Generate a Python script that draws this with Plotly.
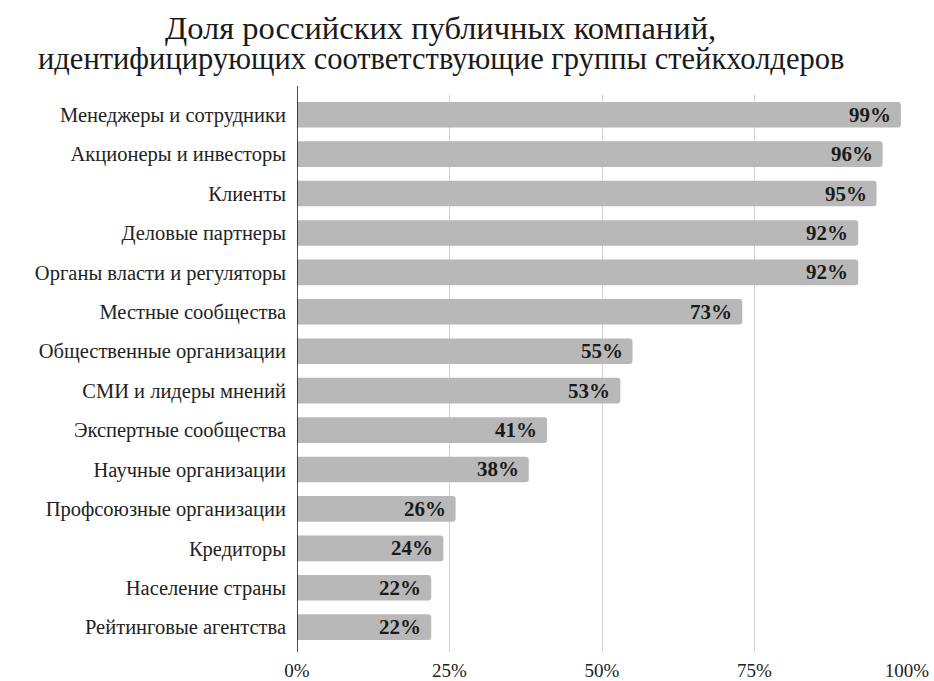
import plotly.graph_objects as go

# Stakeholder groups and share of companies identifying each one (%)
groups = [
    "Менеджеры и сотрудники",
    "Акционеры и инвесторы",
    "Клиенты",
    "Деловые партнеры",
    "Органы власти и регуляторы",
    "Местные сообщества",
    "Общественные организации",
    "СМИ и лидеры мнений",
    "Экспертные сообщества",
    "Научные организации",
    "Профсоюзные организации",
    "Кредиторы",
    "Население страны",
    "Рейтинговые агентства",
]
shares = [99, 96, 95, 92, 92, 73, 55, 53, 41, 38, 26, 24, 22, 22]

x_ticks = [0, 25, 50, 75, 100]
x_tick_labels = ["0%", "25%", "50%", "75%", "100%"]

title_lines = [
    "Доля российских публичных компаний,",
    "идентифицирующих соответствующие группы стейкхолдеров",
]

SERIF = "Liberation Serif"

fig = go.Figure()
fig.add_trace(go.Bar(
    x=shares,
    y=groups,
    orientation="h",
    marker=dict(color="#b8b8b8", line=dict(width=0)),
    hoverinfo="skip",
))

# Value labels inside the bar ends
for g, v in zip(groups, shares):
    fig.add_annotation(
        x=v, y=g, xref="x", yref="y",
        text=f"<b>{v}%</b>",
        showarrow=False, xanchor="right", yanchor="middle",
        xshift=-8,
        font=dict(family=SERIF, size=21, color="#1a1a1a"),
    )

# Two-line title with tight line spacing
for line, ypos, fsize in zip(title_lines, [1.1205, 1.0646], [32.5, 30.5]):
    fig.add_annotation(
        x=0.236, y=ypos, xref="paper", yref="paper",
        text=line, showarrow=False,
        xanchor="center", yanchor="middle",
        font=dict(family=SERIF, size=fsize, color="#1a1a1a"),
    )

# Vertical baseline at 0%
fig.add_shape(
    type="line", xref="x", yref="paper",
    x0=0, x1=0, y0=0, y1=1.016,
    line=dict(color="#111111", width=1.5),
)

fig.update_layout(
    width=934, height=681,
    paper_bgcolor="white", plot_bgcolor="white",
    margin=dict(l=297, r=27, t=95, b=29),
    bargap=0.35,
    barcornerradius=3,
    showlegend=False,
    font=dict(family=SERIF, size=17, color="#222222"),
)

fig.update_xaxes(
    range=[0, 100],
    tickvals=x_ticks, ticktext=x_tick_labels,
    showgrid=True, gridcolor="#d4d4d4", gridwidth=1,
    zeroline=False, showline=False,
    ticks="", ticklabelstandoff=5,
    tickfont=dict(family=SERIF, size=19, color="#222222"),
    automargin=False,
    fixedrange=True,
)
fig.update_yaxes(
    categoryorder="array", categoryarray=groups,
    range=[len(groups) - 0.5 + 0.13, -0.5],
    showgrid=False, zeroline=False, showline=False,
    ticks="", ticklabelstandoff=10,
    tickfont=dict(family=SERIF, size=20.5, color="#222222"),
    automargin=False,
    fixedrange=True,
)

fig.write_html("out.html")
